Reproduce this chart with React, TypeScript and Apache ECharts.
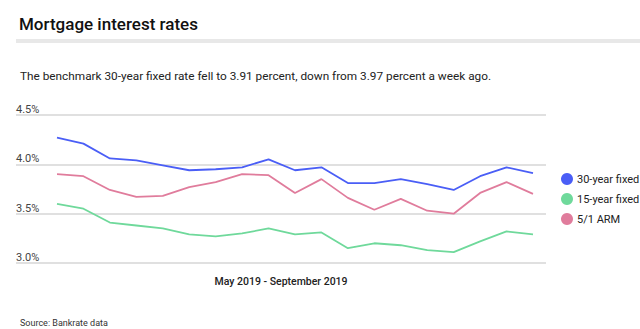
import React, { useEffect, useRef } from "react";
import * as echarts from "echarts";

const weeks = [
  "W1", "W2", "W3", "W4", "W5", "W6", "W7", "W8", "W9", "W10",
  "W11", "W12", "W13", "W14", "W15", "W16", "W17", "W18", "W19",
];
const fixed30 = [4.27, 4.21, 4.06, 4.04, 3.99, 3.94, 3.95, 3.97, 4.05, 3.94, 3.97, 3.81, 3.81, 3.85, 3.8, 3.74, 3.88, 3.97, 3.91];
const fixed15 = [3.6, 3.55, 3.41, 3.38, 3.35, 3.29, 3.27, 3.3, 3.35, 3.29, 3.31, 3.15, 3.2, 3.18, 3.13, 3.11, 3.22, 3.32, 3.29];
const arm51 = [3.9, 3.88, 3.74, 3.67, 3.68, 3.77, 3.82, 3.9, 3.89, 3.71, 3.85, 3.66, 3.54, 3.65, 3.53, 3.5, 3.71, 3.82, 3.7];
const seriesNames = ["30-year fixed", "15-year fixed", "5/1 ARM"];
const colors = ["#4a5ef6", "#6fd99b", "#e07c9c"];
const yTicks = { min: 3.0, max: 4.5, interval: 0.5 };

const FONT = "Roboto, 'Noto Sans', sans-serif";

export default function App() {
  const ref = useRef<HTMLDivElement>(null);
  useEffect(() => {
    document.body.style.margin = "0";
    const chart = echarts.init(ref.current!, null, { renderer: "svg" });
    const values = [fixed30, fixed15, arm51];
    chart.setOption({
      animation: false,
      backgroundColor: "#ffffff",
      textStyle: { fontFamily: FONT },
      title: [
        {
          text: "Mortgage interest rates",
          left: 14,
          top: 10,
          textStyle: { fontSize: 17, fontWeight: 500, color: "#111", fontFamily: FONT },
        },
        {
          text: "The benchmark 30-year fixed rate fell to 3.91 percent, down from 3.97 percent a week ago.",
          left: 15,
          top: 65,
          textStyle: { fontSize: 11.8, fontWeight: 400, color: "#222", fontFamily: FONT },
        },
        {
          text: "Source: Bankrate data",
          left: 15,
          top: 313,
          textStyle: { fontSize: 9, fontWeight: 400, color: "#333", fontFamily: FONT },
        },
      ],
      graphic: [
        {
          type: "rect",
          shape: { x: 16, y: 39, width: 624, height: 4 },
          style: { fill: "#e8e8e8" },
          silent: true,
        },
      ],
      legend: {
        orient: "vertical",
        left: 556,
        top: 168,
        itemGap: 8,
        itemWidth: 12,
        itemHeight: 12,
        icon: "circle",
        data: seriesNames,
        textStyle: { fontSize: 11, color: "#222", fontFamily: FONT, padding: [0, 0, 0, -1] },
      },
      grid: [
        { left: 16, right: 94, top: 115, bottom: 66 },
        { left: 57, right: 107, top: 115, bottom: 66 },
      ],
      xAxis: [
        {
          type: "category",
          gridIndex: 0,
          data: weeks,
          boundaryGap: false,
          axisLine: { show: false },
          axisTick: { show: false },
          axisLabel: { show: false },
          name: "May 2019 - September 2019",
          nameLocation: "middle",
          nameGap: 13,
          nameTextStyle: { fontSize: 10.5, fontWeight: 500, color: "#222", fontFamily: FONT },
        },
        {
          type: "category",
          gridIndex: 1,
          data: weeks,
          boundaryGap: false,
          axisLine: { show: false },
          axisTick: { show: false },
          axisLabel: { show: false },
        },
      ],
      yAxis: [
        {
          type: "value",
          gridIndex: 0,
          min: yTicks.min,
          max: yTicks.max,
          interval: yTicks.interval,
          axisLine: { show: false },
          axisTick: { show: false },
          splitLine: { lineStyle: { color: "#e0e0e0", width: 2 } },
          axisLabel: {
            inside: true,
            margin: 0,
            verticalAlign: "bottom",
            align: "left",
            fontSize: 11,
            color: "#444",
            fontFamily: FONT,
            formatter: (v: number) => v.toFixed(1) + "%",
          },
        },
        {
          type: "value",
          gridIndex: 1,
          min: yTicks.min,
          max: yTicks.max,
          interval: yTicks.interval,
          show: false,
          splitLine: { show: false },
        },
      ],
      series: seriesNames.map((name, i) => ({
        name,
        type: "line",
        xAxisIndex: 1,
        yAxisIndex: 1,
        data: values[i],
        showSymbol: false,
        symbol: "circle",
        color: colors[i],
        lineStyle: { width: 1.8, color: colors[i] },
      })),
    });
    return () => chart.dispose();
  }, []);
  return <div ref={ref} style={{ width: 640, height: 329 }} />;
}
